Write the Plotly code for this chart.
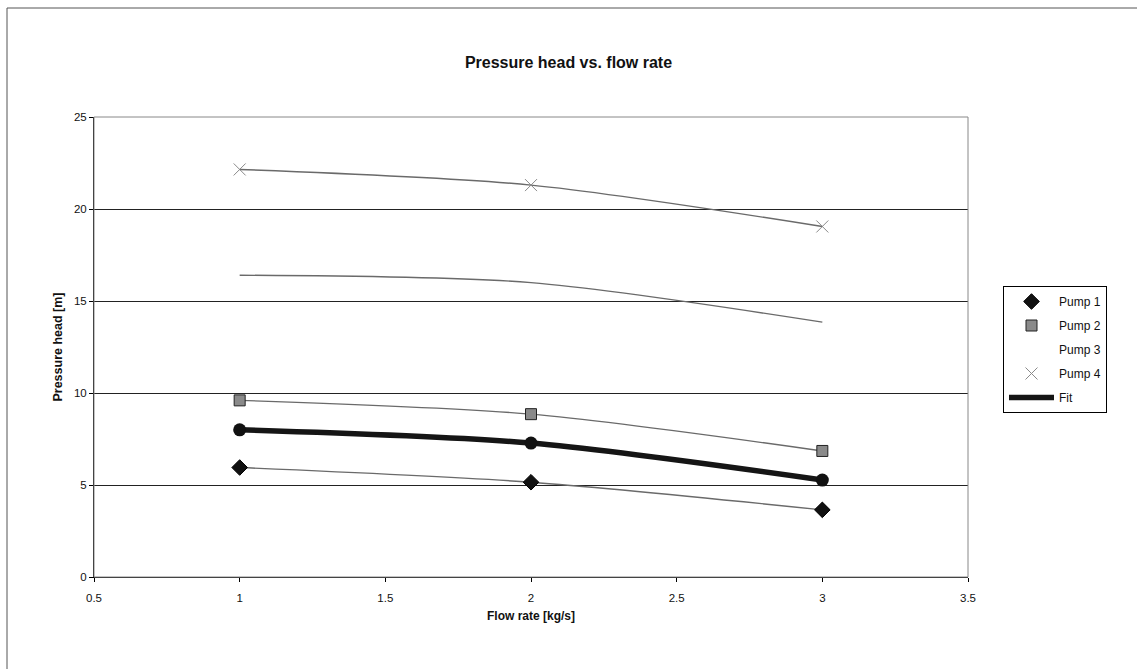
import plotly.graph_objects as go

# ---- data ----
flow = [1, 2, 3]
pump1 = [5.95, 5.15, 3.65]
pump2 = [9.6, 8.85, 6.85]
pump3 = [16.4, 16.0, 13.85]
pump4 = [22.15, 21.3, 19.05]
fit = [8.0, 7.28, 5.27]

x_ticks = [0.5, 1, 1.5, 2, 2.5, 3, 3.5]
y_ticks = [0, 5, 10, 15, 20, 25]

W, H = 1137, 669
L, R, T, B = 94, 1137 - 968, 117, 669 - 577
pw, ph = W - L - R, H - T - B

def px(x):
    return (x - L) / pw

def py(y):
    return (H - B - y) / ph

FONT = "Liberation Sans, Arial, sans-serif"
line_gray = "#6a6a6a"

fig = go.Figure()

series = [
    ("Pump 1", pump1, dict(symbol="diamond", size=12, color="#111111", line=dict(color="#000", width=1))),
    ("Pump 2", pump2, dict(symbol="square", size=11, color="#8a8a8a", line=dict(color="#222", width=1))),
    ("Pump 3", pump3, dict(symbol="triangle-up", size=10, color="rgba(255,255,255,0)", line=dict(width=0))),
    ("Pump 4", pump4, dict(symbol="x-thin-open", size=12, color="#8a8a8a", line=dict(color="#8a8a8a", width=1))),
]

for name, vals, mk in series:
    fig.add_trace(go.Scatter(
        x=flow, y=vals, mode="lines+markers", name=name,
        line=dict(color=line_gray, width=1.4, shape="spline", smoothing=0.8),
        marker=mk, showlegend=False, cliponaxis=False,
    ))

fig.add_trace(go.Scatter(
    x=flow, y=fit, mode="lines+markers", name="Fit",
    line=dict(color="#151515", width=5.5, shape="spline", smoothing=0.8),
    marker=dict(symbol="circle", size=13, color="#111111"),
    showlegend=False,
))

# legend entries
for i, (name, vals, mk) in enumerate(series):
    fig.add_trace(go.Scatter(x=[None], y=[None], mode="markers", name=name, marker=mk,
                             legendgroup=f"g{i}"))
fig.add_trace(go.Scatter(x=[None], y=[None], mode="lines", name="Fit",
                         line=dict(color="#151515", width=5.5), legendgroup="g9"))

fig.update_layout(
    width=W, height=H,
    margin=dict(l=L, r=R, t=T, b=B),
    paper_bgcolor="white", plot_bgcolor="white",
    font=dict(family=FONT, size=11.5, color="#111"),
    title=dict(text="<b>Pressure head vs. flow rate</b>", x=0.5, xref="container",
               y=1 - 62 / H, yanchor="middle", xanchor="center",
               font=dict(size=16, family=FONT)),
    legend=dict(x=px(1003), y=py(286), xanchor="left", yanchor="top",
                bordercolor="#000", borderwidth=1, bgcolor="white",
                font=dict(size=12, family=FONT), itemwidth=45,
                tracegroupgap=5),
    shapes=[
        dict(type="rect", xref="paper", yref="paper", x0=0, x1=1, y0=0, y1=1,
             line=dict(color="#888", width=1)),
        dict(type="rect", xref="paper", yref="paper", x0=px(7), x1=px(1145), y0=py(680), y1=py(8),
             line=dict(color="#555", width=1), layer="below"),
    ],
)

fig.update_xaxes(
    range=[0.5, 3.5], tickvals=x_ticks, ticktext=[str(t) for t in x_ticks],
    showgrid=False, zeroline=False, showline=True, linecolor="#000", linewidth=1,
    ticks="outside", ticklen=4, tickcolor="#000", ticklabelstandoff=6,
    title=dict(text="<b>Flow rate [kg/s]</b>", font=dict(size=12, family=FONT), standoff=8),
)
fig.update_yaxes(
    range=[0, 25], tickvals=y_ticks, ticktext=[str(t) for t in y_ticks],
    showgrid=True, gridcolor="#222", gridwidth=1, zeroline=False,
    showline=True, linecolor="#000", linewidth=1,
    ticks="outside", ticklen=4, tickcolor="#000",
    title=dict(text="<b>Pressure head [m]</b>", font=dict(size=12.5, family=FONT), standoff=8),
)

fig.write_html("out.html")
